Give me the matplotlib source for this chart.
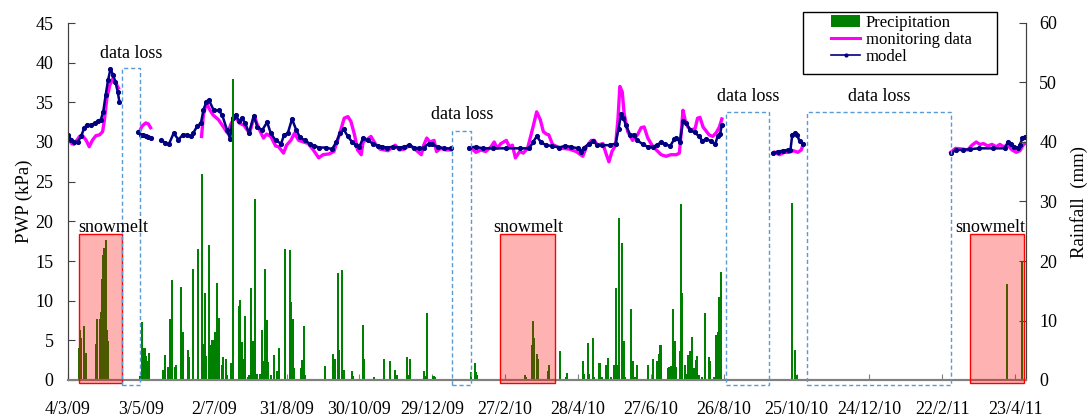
import numpy as np
import matplotlib.pyplot as plt
from matplotlib.patches import Rectangle, Patch
from matplotlib.lines import Line2D

plt.rcParams['font.family'] = ['Liberation Serif', 'DejaVu Serif']

# x axis in days counted from 4/3/09, ticks every 60 days
tick_labels = ['4/3/09', '3/5/09', '2/7/09', '31/8/09', '30/10/09', '29/12/09', '27/2/10',
               '28/4/10', '27/6/10', '26/8/10', '25/10/10', '24/12/10', '22/2/11', '23/4/11']

# daily rainfall (day, mm)
rainfall = [
    (9, 5.4), (10, 8.4), (11, 7.0), (13, 9.0), (14, 4.6), (15, 4.6),
    (23, 6.0), (24, 10.3), (26, 10.3), (27, 11.5), (28, 17.0), (29, 21.0), (30, 22.2), (31, 23.5),
    (32, 8.4), (33, 6.5),
    (59, 0.6), (61, 9.8), (63, 5.4), (64, 4.0), (65, 3.2), (67, 4.5),
    (78, 1.7), (80, 4.2), (82, 2.2), (84, 10.3), (86, 16.8), (88, 2.2), (89, 2.5), (93, 15.7),
    (95, 8.1), (99, 5.0), (100, 3.9),
    (103, 18.7), (107, 22.1), (110, 34.7), (111, 6.0), (113, 14.6), (114, 4.0), (116, 22.7),
    (117, 5.9), (118, 5.3), (119, 6.7), (121, 8.1), (123, 16.3), (124, 10.5), (127, 2.5), (128, 3.9),
    (130, 3.5), (131, 0.8), (134, 2.8), (136, 50.6), (141, 12.5), (142, 13.4), (143, 6.4), (144, 3.5),
    (146, 10.8), (148, 0.5), (149, 0.8), (151, 15.4), (152, 6.6), (154, 30.5), (156, 1.0), (158, 1.0),
    (160, 8.4), (161, 3.2), (162, 18.7), (164, 10.1), (165, 3.0), (167, 0.8), (170, 4.2), (172, 1.5),
    (174, 5.3),
    (179, 22.0), (183, 21.8), (184, 13.1), (185, 10.2), (186, 2.0), (192, 2.0), (193, 3.4), (194, 9.0),
    (195, 0.8),
    (212, 2.3), (218, 4.3), (219, 3.3), (220, 3.5), (222, 17.9), (223, 5.0), (226, 18.5), (227, 1.7),
    (234, 1.5), (235, 0.7), (243, 9.2), (244, 3.6), (252, 0.5), (260, 3.6),
    (265, 3.2), (269, 1.7), (270, 0.8), (271, 0.8), (279, 3.8), (280, 0.8), (282, 3.5), (293, 1.5),
    (294, 0.7), (296, 11.3), (301, 0.7), (302, 0.5),
    (332, 1.4), (335, 2.8), (336, 1.3), (337, 0.9),
    (376, 0.9), (377, 0.5), (382, 5.8), (383, 9.9), (384, 7.1), (386, 4.4), (387, 3.6), (395, 1.5),
    (396, 2.5),
    (405, 4.8), (410, 0.5), (411, 1.2), (424, 3.2), (425, 1.0), (428, 6.3), (429, 1.0), (432, 7.0),
    (433, 0.5), (437, 2.8), (438, 2.8), (440, 0.5), (443, 2.6), (445, 3.7), (447, 0.5), (450, 2.6),
    (451, 15.5), (453, 2.5), (454, 27.3), (456, 23.0), (458, 6.5), (459, 0.5), (464, 11.9), (465, 3.2),
    (467, 0.5), (469, 2.5), (478, 2.6), (482, 3.5), (485, 3.2), (487, 4.3), (488, 5.8),
    (494, 2.0), (495, 2.2), (497, 2.4), (498, 12.0), (500, 6.5), (501, 2.2), (504, 4.8), (505, 29.5),
    (506, 14.6), (508, 2.5), (509, 1.0), (511, 4.2), (512, 4.8), (513, 2.8), (514, 7.3), (516, 2.0),
    (517, 3.4), (518, 4.0), (520, 0.8), (522, 0.5), (525, 11.2),
    (528, 3.8), (529, 3.2), (532, 0.5), (534, 7.6), (535, 8.0), (536, 14.0), (537, 14.0), (538, 18.2),
    (596, 29.7), (599, 5.0), (600, 0.8),
    (773, 16.1), (786, 19.9),
]

# measured pore water pressure (day, kPa); nan breaks the line where data is missing
monitoring = [
    (0, 30.7), (3, 29.8), (5, 29.7), (9.5, 30.7), (12, 30.8), (15, 30.2), (17.5, 29.4), (20, 30.2),
    (23, 30.8), (26, 30.9), (28.5, 31.3), (30, 32.8), (32, 35.5), (34.5, 37.2), (37, 38.0),
    (39.5, 37.4), (41.5, 36.8),
    (50, np.nan),
    (58.5, 31.2), (61, 32.0), (64, 32.4), (66, 32.3), (68, 31.8),
    (75, np.nan),
    (110, 30.7), (111.5, 33.4), (114, 34.9), (117, 34.0), (119.5, 33.4), (124, 32.8), (127.5, 32.0),
    (131.5, 31.1), (134, 32.2), (137.8, 33.3), (141, 32.4), (145, 32.1), (149.5, 31.1), (153.5, 33.3),
    (156.5, 31.9), (161, 30.5), (163.5, 31.0), (167, 30.7), (171, 29.5), (173.5, 29.4), (177.5, 28.6),
    (180, 29.6), (183.5, 30.2), (186.5, 31.1), (190, 30.2), (194, 30.0), (198, 29.8), (202, 29.0),
    (206.5, 28.0), (210, 28.4), (215, 28.5), (219, 28.8), (222, 30.2), (225, 31.7), (227.5, 33.0),
    (230.5, 33.2), (233, 32.6), (236, 30.9), (238.5, 29.0), (241.5, 28.4), (243, 30.0), (247, 30.4),
    (249.5, 30.7), (253, 29.8), (257, 29.1), (260.5, 29.0), (263.5, 28.9), (266, 29.2), (269.5, 29.6),
    (273, 29.0), (277, 29.1), (281.5, 29.6), (286.5, 29.0), (291, 28.4), (293, 29.6), (295.5, 30.5),
    (298, 30.0), (301.5, 30.2), (303.5, 28.8), (307, 29.2), (311, 29.0), (315.5, 29.0),
    (323, np.nan),
    (333, 29.1), (336, 28.7), (340, 29.0), (344, 28.8), (348.5, 29.4), (351, 30.0), (353.5, 29.2),
    (356.5, 29.8), (361, 30.2), (363.5, 29.4), (366, 29.6), (368.5, 28.0), (372, 28.8), (375, 28.6),
    (378.5, 29.2), (383, 31.9), (386, 33.8), (389, 32.8), (391.5, 31.3), (394, 31.0), (396, 30.9),
    (399, 29.7), (403, 29.4), (407.5, 29.2), (413, 29.1), (418.5, 28.8), (424, 28.2), (427, 29.4),
    (431, 30.2), (433.5, 30.2), (436, 29.6), (440.5, 29.8), (443, 28.6), (445.5, 27.5), (448, 28.8),
    (451, 29.6), (453, 33.0), (454.5, 37.0), (456.5, 36.3), (458, 33.6), (461, 31.3), (465, 30.2),
    (469, 30.9), (472, 31.8), (474.5, 31.9), (477.5, 30.5), (481, 29.6), (484.5, 29.0), (488.5, 28.4),
    (492.5, 28.2), (496.5, 28.4), (501, 28.4), (503.5, 28.6), (505, 31.1), (506.5, 34.0), (508.5, 32.6),
    (510.5, 31.9), (513, 31.5), (516.5, 31.7), (518.5, 33.0), (520.5, 33.1), (523, 31.9), (525.5, 31.4),
    (528, 30.9), (531, 30.7), (534, 31.2), (536.5, 31.9), (538.5, 32.9),
    (560, np.nan),
    (582, 28.7), (586, 28.4), (590, 28.7), (594, 28.7), (597.5, 28.9), (601, 28.7), (604, 29.0),
    (605.5, 29.8),
    (660, np.nan),
    (727, 28.7), (731, 29.2), (737, 29.1), (741, 29.0), (744.5, 29.6), (748, 30.0), (751, 29.7),
    (754, 29.8), (757.5, 29.5), (761, 29.7), (764.5, 29.4), (767.5, 29.7), (770.5, 29.4), (774, 29.6),
    (777.5, 29.0), (781, 28.7), (784, 28.9), (786.5, 29.6), (788, 29.8),
]

# simulated pore water pressure (day, kPa)
model = [
    (0, 30.9), (2.5, 30.3), (5, 30.0), (8, 30.0), (10.7, 30.7), (13.5, 31.8), (16, 32.2), (19, 32.1),
    (22, 32.4), (24.5, 32.6), (27, 32.8), (29, 33.8), (31, 35.9), (33, 37.8), (35, 39.2), (37, 38.5),
    (39, 37.6), (41, 36.3), (42.3, 35.1),
    (50, np.nan),
    (58, 31.2), (60, 30.9), (62, 30.9), (64, 30.8), (66, 30.6), (68, 30.5),
    (72, np.nan),
    (77, 30.2), (80, 29.9), (83, 29.7), (87, 31.1), (91, 30.3), (94.5, 30.9), (98, 30.9), (101, 30.7),
    (103, 31.1), (106.5, 32.0), (109.5, 32.4), (111.5, 34.0), (114, 35.1), (116, 35.3), (120, 34.0),
    (124, 34.0), (127, 33.4), (131, 31.5), (133.5, 30.4), (135.6, 33.0), (138, 33.4), (141, 32.6),
    (143, 33.0), (146, 32.4), (149, 31.1), (153, 33.3), (156, 31.9), (160, 31.5), (164, 32.5),
    (167, 31.1), (171, 30.2), (175.5, 29.8), (178, 30.9), (181, 31.1), (184.5, 32.9), (188, 31.5),
    (191, 30.6), (195, 30.2), (199, 29.8), (203, 29.5), (207, 29.3), (212.5, 29.3), (217.5, 29.1),
    (221, 30.0), (224, 31.1), (227, 31.6), (230.5, 30.7), (234, 30.0), (237, 29.6), (240, 29.4),
    (243, 30.5), (247, 30.2), (251, 29.8), (255, 29.5), (259, 29.4), (263, 29.3), (267.5, 29.4),
    (273, 29.3), (277, 29.4), (281, 29.6), (285, 29.3), (289, 29.2), (293, 29.3), (297, 29.8),
    (300, 29.7), (304.5, 29.4), (310, 29.2), (315.5, 29.2),
    (323, np.nan),
    (330.5, 29.3), (336, 29.4), (341.5, 29.2), (350, 29.2), (361, 29.2), (372, 29.2), (380, 29.2),
    (383, 30.0), (386, 30.7), (389.5, 30.0), (393.5, 29.6), (399, 29.5), (404.5, 29.3), (409, 29.5),
    (414, 29.4), (420, 29.2), (422.5, 28.8), (425, 29.3), (429.5, 29.8), (432.5, 30.1), (436, 29.6),
    (440, 29.6), (446, 29.6), (451, 29.8), (453.5, 31.7), (455.5, 33.5), (457.5, 33.0), (459.5, 32.1),
    (463, 30.9), (466, 30.9), (469, 30.2), (473.5, 29.7), (477.5, 29.4), (481.5, 29.4), (485, 29.6),
    (488.5, 30.0), (492, 29.7), (496, 29.5), (499.5, 30.4), (501, 30.5), (504, 30.0), (506.5, 32.7),
    (509, 32.4), (512.5, 31.5), (516, 31.2), (520, 30.7), (522.5, 30.1), (525.5, 30.4), (529.5, 30.1),
    (533, 29.7), (535, 30.7), (537, 31.0), (538.5, 32.1),
    (560, np.nan),
    (580.5, 28.6), (584.5, 28.8), (588.5, 28.9), (593, 29.0), (595, 29.0), (596.5, 30.9), (598.5, 31.1),
    (600.5, 30.9), (602.5, 30.1), (605.5, 29.7),
    (660, np.nan),
    (727, 28.6), (731.5, 29.0), (737, 29.0), (742.5, 29.1), (750.5, 29.2), (761.5, 29.2), (771.5, 29.2),
    (774, 30.0), (776.5, 29.8), (779.5, 29.4), (782.5, 29.2), (784, 29.6), (786, 30.5), (788, 30.6),
]

# annotation boxes (start day, end day, top kPa)
snowmelt_spans = [(9, 44.5), (356, 401), (743, 787)]
data_loss_spans = [(44.5, 59.3, 39.3), (316.3, 331.7, 31.4), (541.8, 577.7, 33.75), (608.5, 727.1, 33.75)]
data_loss_text = [(52, 41.2), (324.5, 33.5), (560, 35.7), (668, 35.7)]
snowmelt_text = [37.3, 379, 759.5]

fig = plt.figure(figsize=(10.9, 4.2), dpi=100)
ax = fig.add_axes([68 / 1090, 40 / 420, 958 / 1090, 357 / 420])
ax2 = ax.twinx()

mon = np.array(monitoring)
mod = np.array(model)
ax.plot(mon[:, 0], mon[:, 1], color='#FF00FF', lw=2.4, zorder=3)
ax.plot(mod[:, 0], mod[:, 1], color='#000080', lw=1.8, marker='o', ms=2.7, zorder=4)

rain = np.array(rainfall)
ax2.bar(rain[:, 0], rain[:, 1], width=1.7, color='#008000', linewidth=0, zorder=2)

# shaded snowmelt periods
for x0, x1 in snowmelt_spans:
    ax2.add_patch(Rectangle((x0, -0.4), x1 - x0, 18.8, transform=ax.transData,
                            facecolor=(1, 0, 0, 0.3), edgecolor='#FF0000', lw=1.0,
                            clip_on=False, zorder=5))
for xc in snowmelt_text:
    ax2.text(xc, 19.2, 'snowmelt', transform=ax.transData, ha='center', va='center',
             fontsize=13, zorder=6)

# periods without monitoring data
for x0, x1, top in data_loss_spans:
    ax2.add_patch(Rectangle((x0, -0.6), x1 - x0, top + 0.6, transform=ax.transData,
                            fill=False, edgecolor='#5B9BD5', lw=1.0, linestyle=(0, (3, 2)),
                            clip_on=False, zorder=5))
for xc, yc in data_loss_text:
    ax2.text(xc, yc, 'data loss', transform=ax.transData, ha='center', va='center',
             fontsize=13, zorder=6)

ax.set_xlim(0, 789)
ax.set_xticks(np.arange(0, 781, 60))
ax.set_xticklabels(tick_labels)
ax.set_ylim(0, 45)
ax.set_yticks(np.arange(0, 46, 5))
ax2.set_ylim(0, 60)
ax2.set_yticks(np.arange(0, 61, 10))

ax.tick_params(axis='x', direction='in', length=4, color='#808080', pad=15, labelsize=13)
ax.tick_params(axis='y', direction='in', length=5, color='#404040', pad=10.5, labelsize=13)
ax2.tick_params(axis='y', direction='in', length=5, color='#404040', pad=9.5, labelsize=13)

for a in (ax, ax2):
    a.spines['top'].set_visible(False)
    a.spines['left'].set_color('#404040')
    a.spines['right'].set_color('#404040')
    a.spines['bottom'].set_color('#808080')
    a.spines['bottom'].set_linewidth(1.5)

ax.set_ylabel('PWP (kPa)', fontsize=13.5)
ax.yaxis.set_label_coords(-0.0365, 0.5)
ax2.set_ylabel('Rainfall  (mm)', fontsize=13.5)
ax2.yaxis.set_label_coords(1.046, 0.5)

# legend without its own frame; the box is drawn separately so it can be wider
fig.patches.append(Rectangle((803 / 1090, 1 - 74 / 420), 194 / 1090, 62 / 420,
                             transform=fig.transFigure, fill=True, facecolor='white',
                             edgecolor='black', lw=1.0, zorder=9))
handles = [Patch(facecolor='#008000', edgecolor='none'),
           Line2D([], [], color='#FF00FF', lw=2.2),
           Line2D([], [], color='#000080', lw=1.2, marker='o', ms=2)]
leg = fig.legend(handles, ['Precipitation', 'monitoring data', 'model'],
                 loc='upper left', bbox_to_anchor=(831 / 1090, 1 - 15 / 420), fontsize=12,
                 frameon=False, borderpad=0, borderaxespad=0,
                 handlelength=1.75, labelspacing=0.05, handletextpad=0.35)
leg.set_zorder(10)

fig.savefig('out.png', dpi=100)
